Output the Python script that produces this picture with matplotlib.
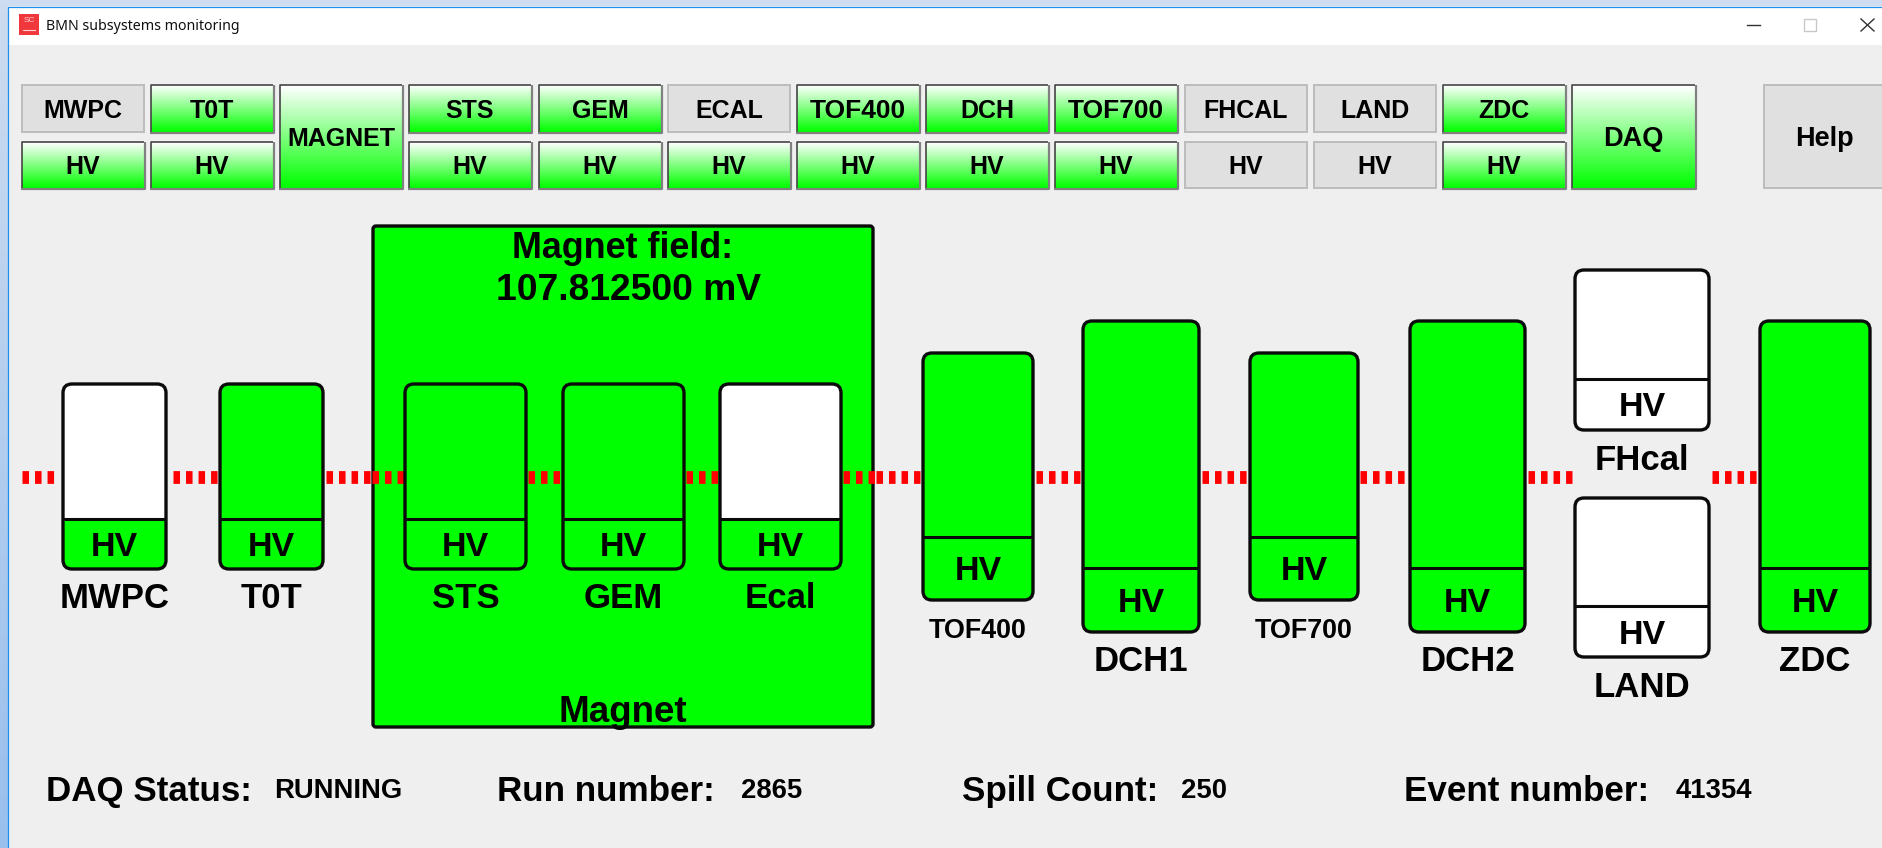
import numpy as np
import matplotlib
matplotlib.use("Agg")
import matplotlib.pyplot as plt
from matplotlib.patches import Rectangle, FancyBboxPatch

plt.rcParams['font.family'] = ['Liberation Sans', 'DejaVu Sans']

# ---- content ----
window_title = "BMN subsystems monitoring"

button_names = ["MWPC", "T0T", "STS", "GEM", "ECAL", "TOF400", "DCH", "TOF700", "FHCAL", "LAND", "ZDC"]
button_on = [False, True, True, True, False, True, True, True, False, False, True]
button_hv_on = [True, True, True, True, True, True, True, True, False, False, True]

detector_names = ["MWPC", "T0T", "STS", "GEM", "Ecal", "TOF400", "DCH1", "TOF700", "DCH2", "FHcal", "LAND", "ZDC"]
detector_on = [False, True, True, True, False, True, True, True, True, False, False, True]
detector_hv_on = [True, True, True, True, True, True, True, True, True, False, False, True]

status_labels = ["DAQ Status:", "Run number:", "Spill Count:", "Event number:"]
status_values = ["RUNNING", "2865", "250", "41354"]

# ---- layout (pixels) ----
W, H = 1883, 848
GREEN = "#00ff00"
BG = "#efefef"
det_left = [63, 220, 405, 563, 720, 923, 1083, 1250, 1410, 1575, 1575, 1760]
det_right = [166, 323, 526, 684, 841, 1033, 1199, 1358, 1525, 1709, 1709, 1870]
det_top = [384, 384, 384, 384, 384, 353, 321, 353, 321, 270, 498, 321]
det_bottom = [569, 569, 569, 569, 569, 600, 632, 600, 632, 430, 657, 632]
det_divider = [519, 519, 519, 519, 519, 537, 568, 537, 568, 379, 606, 568]
det_label_y = [595, 595, 595, 595, 595, 628, 658, 628, 658, 457, 684, 658]
det_label_size = [25, 25, 25, 25, 25, 19.4, 25, 19.4, 25, 25, 25, 25]
beam_segments = [(21.7, 55), (172.7, 219), (326, 371.5), (372, 404), (528, 562), (686, 719), (843.3, 875),
                 (876, 920.5), (1036, 1080), (1202, 1248), (1360, 1408), (1528, 1572), (1712.5, 1758)]
button_x = [22, 151, 409, 539, 668, 797, 926, 1055, 1185, 1314, 1443]
button_w = 122

fig = plt.figure(figsize=(W / 100, H / 100), dpi=100, facecolor=BG)
ax = fig.add_axes([0, 0, 1, 1])
ax.set_xlim(0, W)
ax.set_ylim(H, 0)
ax.axis("off")

grad_green = np.linspace(0, 1, 64)[:, None, None] * np.array([[[0.0, 1.0, 0.0]]]) + \
    (1 - np.linspace(0, 1, 64)[:, None, None]) * np.array([[[1.0, 1.0, 1.0]]])


def button(x0, y0, x1, y1, label, on, size=18):
    if on:
        ax.add_patch(Rectangle((x0 - 1, y0 - 1), x1 - x0 + 2, y1 - y0 + 2, fc="none", ec="#f8f8f8", lw=1, zorder=2))
        ax.imshow(grad_green, extent=(x0, x1, y1, y0), aspect="auto", zorder=3, interpolation="bilinear")
        ax.plot([x0, x0, x1], [y1, y0, y0], color="#444444", lw=1.2, zorder=4, solid_capstyle="butt")
        ax.plot([x0 - 1, x1 + 1, x1 + 1], [y1 + 1, y1 + 1, y0], color="#808080", lw=1.6, zorder=4, solid_capstyle="butt")
    else:
        ax.add_patch(Rectangle((x0, y0), x1 - x0, y1 - y0, fc="#e0e0e0", ec="#bcbcbc", lw=1.4, zorder=3))
    ax.text((x0 + x1) / 2, (y0 + y1) / 2, label, ha="center", va="center_baseline",
            fontsize=size, fontweight="bold", color="black", zorder=5)


def detector(i):
    x0, x1, y0, y1, yd = det_left[i], det_right[i], det_top[i], det_bottom[i], det_divider[i]
    box = FancyBboxPatch((x0, y0), x1 - x0, y1 - y0, boxstyle="round,pad=0,rounding_size=9",
                         fc=GREEN if detector_on[i] else "white", ec="none", zorder=7)
    ax.add_patch(box)
    low = Rectangle((x0, yd), x1 - x0, y1 - yd, fc=GREEN if detector_hv_on[i] else "white", ec="none", zorder=8)
    ax.add_patch(low)
    low.set_clip_path(box)
    ax.plot([x0, x1], [yd, yd], color="#0a0a0a", lw=2.2, zorder=9, solid_capstyle="butt")
    ax.add_patch(FancyBboxPatch((x0, y0), x1 - x0, y1 - y0, boxstyle="round,pad=0,rounding_size=9",
                                fc="none", ec="#0a0a0a", lw=2.4, zorder=10))
    ax.text((x0 + x1) / 2, (yd + y1) / 2, "HV", ha="center", va="center_baseline", fontsize=24.5,
            fontweight="bold", zorder=11)
    ax.text((x0 + x1) / 2, det_label_y[i], detector_names[i], ha="center", va="center_baseline",
            fontsize=det_label_size[i], fontweight="bold", zorder=11)


# window frame
ax.imshow(np.linspace(0, 1, 64)[:, None, None] * np.array([[[0.60, 0.75, 0.93]]]) +
          (1 - np.linspace(0, 1, 64)[:, None, None]) * np.array([[[0.80, 0.86, 0.94]]]),
          extent=(0, 8, H, 0), aspect="auto", zorder=1)
ax.add_patch(Rectangle((0, 0), W, 6, fc="#cddcf0", ec="none", zorder=1))
ax.add_patch(Rectangle((8, 7), W, 38, fc="white", ec="none", zorder=1))
ax.plot([8.5, 8.5, W], [H, 6.5, 6.5], color="#1e90ee", lw=0.9, zorder=2)

# title bar
ax.add_patch(Rectangle((19, 14), 20, 21, fc="#f0383c", ec="none", zorder=2))
ax.text(29, 21, "SC", ha="center", va="center", fontsize=6, color="#ffd0d0", zorder=3)
ax.plot([23, 35], [30, 30], color="#ffd0d0", lw=0.8, zorder=3)
ax.text(46, 26, window_title, ha="left", va="center", family=["Noto Sans"], fontsize=10.2, color="#101010", zorder=3)
ax.plot([1747, 1760], [25, 25], color="#303030", lw=1, zorder=3)
ax.add_patch(Rectangle((1804, 19), 12, 12, fc="none", ec="#c8c8c8", lw=1, zorder=3))
ax.plot([1861, 1874], [19, 31], color="#303030", lw=1, zorder=3)
ax.plot([1861, 1874], [31, 19], color="#303030", lw=1, zorder=3)

# buttons
for x, name, on, hv in zip(button_x, button_names, button_on, button_hv_on):
    button(x, 85, x + button_w, 132, name, on, size=19 if name.startswith("TOF") else 18)
    button(x, 142, x + button_w, 188, "HV", hv)
button(280, 85, 402, 188, "MAGNET", True)
button(1572, 85, 1695, 188, "DAQ", True, size=19.5)
button(1764, 85, 1885, 188, "Help", False, size=19.5)

# magnet
ax.add_patch(FancyBboxPatch((373, 226), 500, 501, boxstyle="round,pad=0,rounding_size=3",
                            fc=GREEN, ec="#0a0a0a", lw=2.4, zorder=5))
ax.text(623, 245, "Magnet field:", ha="center", va="center_baseline", fontsize=25.8, fontweight="bold", zorder=11)
ax.text(629, 287, "107.812500 mV", ha="center", va="center_baseline", fontsize=26.8, fontweight="bold", zorder=11)
ax.text(623, 709, "Magnet", ha="center", va="center_baseline", fontsize=26.5, fontweight="bold", zorder=11)

# beam line
for a, b in beam_segments:
    ax.plot([a, b], [476.5, 476.5], color="#ff0000", lw=9.2, zorder=6,
            linestyle=(0, (0.51, 0.47)), dash_capstyle="butt")

for i in range(len(detector_names)):
    detector(i)

# status line
for x, s in zip([46, 497, 962, 1404], status_labels):
    ax.text(x, 788, s, ha="left", va="center_baseline", fontsize=25.2, fontweight="bold", zorder=5)
for x, s in zip([274, 741, 1181, 1676], status_values):
    ax.text(x, 788, s, ha="left", va="center_baseline", fontsize=19.8, fontweight="bold", zorder=5)

ax.set_xlim(0, W)
ax.set_ylim(H, 0)
fig.savefig("out.png", dpi=100, facecolor=BG)
